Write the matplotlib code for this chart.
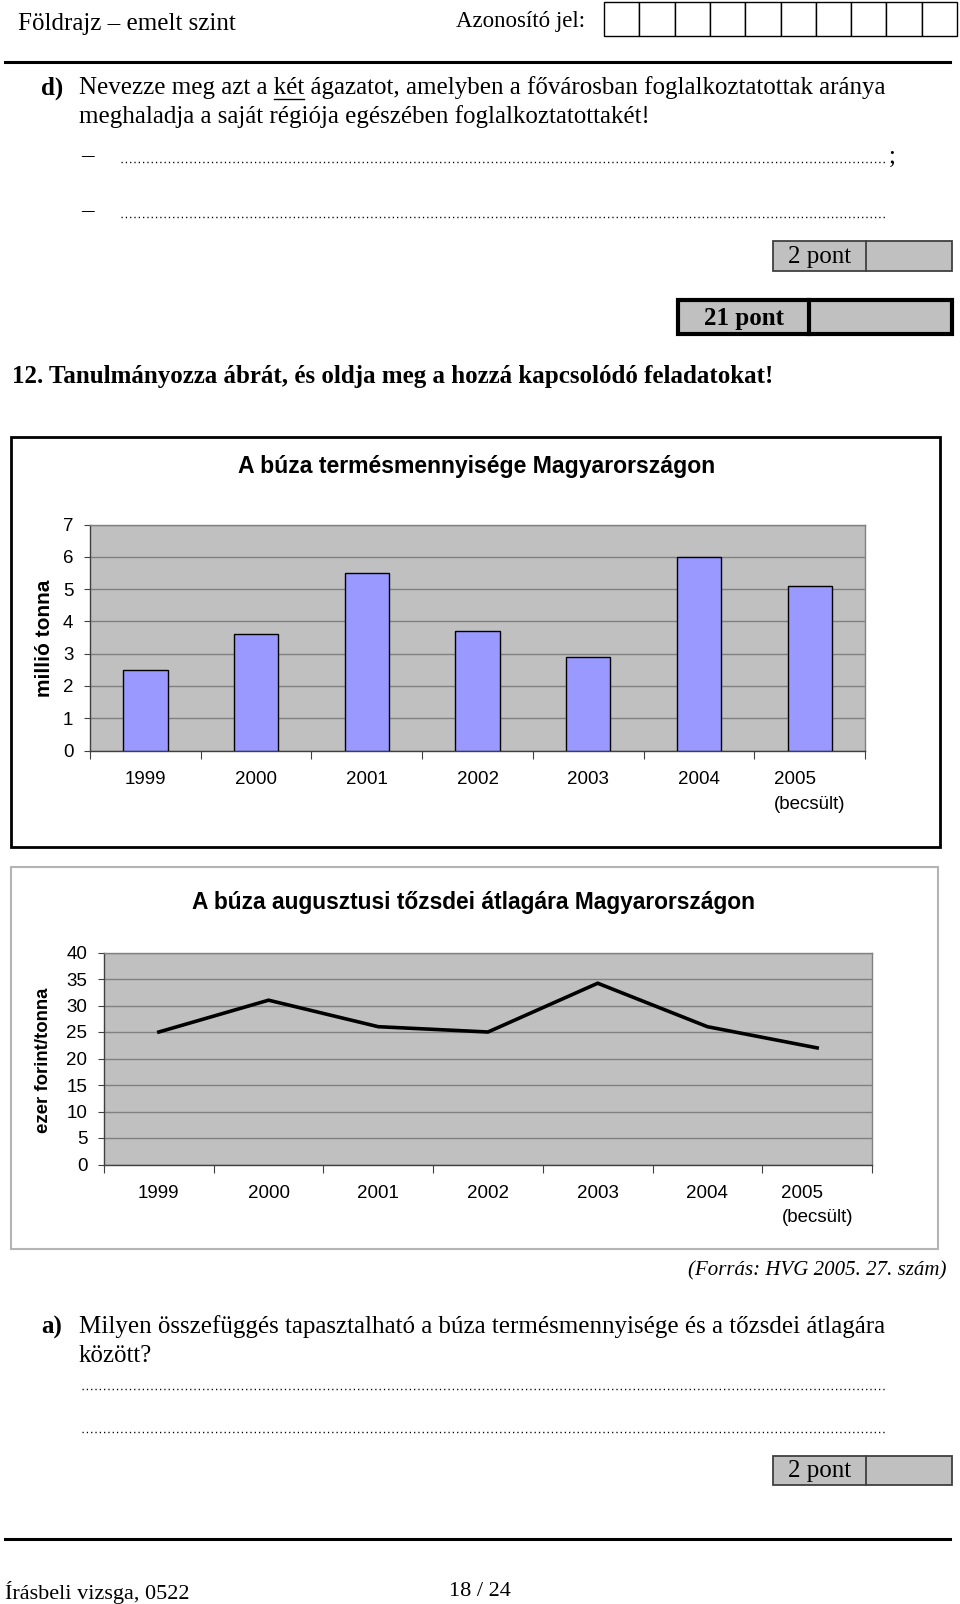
import matplotlib
matplotlib.use("Agg")
import matplotlib.pyplot as plt
from matplotlib.patches import Rectangle

W, H = 960, 1604

# chart data
years = ["1999", "2000", "2001", "2002", "2003", "2004", "2005\n(becsült)"]
harvest = [2.5, 3.6, 5.5, 3.7, 2.9, 6.0, 5.1]      # millió tonna
price = [25, 31, 26, 25, 34.2, 26, 22]             # ezer forint/tonna
harvest_ticks = [0, 1, 2, 3, 4, 5, 6, 7]
price_ticks = [0, 5, 10, 15, 20, 25, 30, 35, 40]

SERIF = "Liberation Serif"
SANS = "Liberation Sans"
PLOT_BG = "#c0c0c0"
GRID = "#808080"
BODY = 18

fig = plt.figure(figsize=(W / 100, H / 100), dpi=100)
page = fig.add_axes([0, 0, 1, 1])
page.set_xlim(0, W)
page.set_ylim(H, 0)
page.axis("off")


def axes_px(x0, y0, x1, y1):
    return fig.add_axes([x0 / W, 1 - y1 / H, (x1 - x0) / W, (y1 - y0) / H])


def txt(x, y, s, size=BODY, **kw):
    kw.setdefault("va", "center")
    return page.text(x, y, s, fontsize=size, family=SERIF, **kw)


def dots(x0, x1, y):
    page.plot([x0, x1], [y, y], color="black", lw=1.0, ls=(0, (0.9, 2.2)),
              solid_capstyle="butt")


def score_box(x0, y0, x1, y1, xm, label, bold=False):
    lw = 3 if bold else 1.3
    ec = "black" if bold else "#404040"
    page.add_patch(Rectangle((x0, y0), x1 - x0, y1 - y0, fc="#c0c0c0", ec=ec, lw=lw))
    page.plot([xm, xm], [y0, y1], color=ec, lw=lw)
    txt((x0 + xm) / 2, (y0 + y1) / 2 + 1, label, weight="bold" if bold else "normal",
        ha="center")


# --- header ---
txt(18, 24, "Földrajz – emelt szint")
txt(585, 22, "Azonosító jel:", size=16.5, ha="right")
cw = (957 - 604) / 10
for i in range(10):
    page.add_patch(Rectangle((604 + i * cw, 2), cw, 34, fc="white", ec="black", lw=1))
page.plot([5, 950], [62, 62], color="black", lw=2.2)

# --- task d ---
txt(41, 88, "d)", weight="bold")
txt(79, 88, "Nevezze meg azt a két ágazatot, amelyben a fővárosban foglalkoztatottak aránya")
txt(79, 117, "meghaladja a saját régiója egészében foglalkoztatottakét!")
# underline "két"
r = fig.canvas.get_renderer()
probe = txt(0, 0, "Nevezze meg azt a két", alpha=0)
w_pre = probe.get_window_extent(r).width
probe2 = txt(0, 0, "két", alpha=0)
w_ket = probe2.get_window_extent(r).width
probe.remove()
probe2.remove()
page.plot([79 + w_pre - w_ket, 79 + w_pre], [98.5, 98.5], color="black", lw=1)

txt(81, 155, "–")
dots(121, 886, 162)
txt(889, 157, ";")
txt(81, 210, "–")
dots(121, 886, 217)

score_box(773, 241, 952, 271, 866, "2 pont")
score_box(678, 300, 952, 334, 809, "21 pont", bold=True)

txt(12, 377, "12. Tanulmányozza ábrát, és oldja meg a hozzá kapcsolódó feladatokat!",
    weight="bold")

# --- chart 1: harvest ---
page.add_patch(Rectangle((11, 437), 929, 410, fc="white", ec="black", lw=2))
page.text(477, 467, "A búza termésmennyisége Magyarországon", family=SANS,
          fontsize=16.6, weight="bold", ha="center", va="center")
page.text(44, 638, "millió tonna", family=SANS, fontsize=15, weight="bold",
          rotation=90, ha="center", va="center")

ax1 = axes_px(90, 524.5, 865, 750.5)
pos = list(range(len(years)))
ax1.set_facecolor(PLOT_BG)
ax1.bar(pos, harvest, width=0.4, color="#9999ff", edgecolor="black", lw=1, zorder=3)
ax1.set_xlim(-0.5, len(years) - 0.5)
ax1.set_ylim(0, 7)
ax1.set_yticks(harvest_ticks)
ax1.yaxis.grid(True, color=GRID, lw=1)
ax1.set_axisbelow(True)

# --- chart 2: price ---
page.add_patch(Rectangle((11, 867), 926.5, 382, fc="white", ec="#b4b4b4", lw=1.5))
page.text(473, 902, "A búza augusztusi tőzsdei átlagára Magyarországon", family=SANS,
          fontsize=16.4, weight="bold", ha="center", va="center")
page.text(44, 1060, "ezer forint/tonna", family=SANS, fontsize=13.4, weight="bold",
          rotation=90, ha="center", va="center")

ax2 = axes_px(104, 952.5, 872, 1164.5)
ax2.set_facecolor(PLOT_BG)
ax2.plot(pos, price, color="black", lw=2.6, solid_joinstyle="miter", zorder=3)
ax2.set_xlim(-0.5, len(years) - 0.5)
ax2.set_ylim(0, 40)
ax2.set_yticks(price_ticks)
ax2.yaxis.grid(True, color=GRID, lw=1)
ax2.set_axisbelow(True)

for ax, xpad, lsp in ((ax1, 15, 1.6), (ax2, 15, 1.55)):
    for s in ax.spines.values():
        s.set_color(GRID)
        s.set_linewidth(1)
    ax.spines["left"].set_color("#404040")
    ax.spines["bottom"].set_color("#404040")
    ax.set_xticks([i - 0.5 for i in range(len(years) + 1)])
    ax.set_xticklabels([])
    ax.set_xticks(pos, minor=True)
    ax.set_xticklabels(years, minor=True, family=SANS, fontsize=13.5)
    for lab in ax.get_xticklabels(minor=True):
        lab.set_multialignment("left")
        lab.set_linespacing(lsp)
    ax.tick_params(axis="x", which="major", length=6, color="#404040", direction="out")
    ax.tick_params(axis="x", which="minor", length=0, pad=xpad)
    ax.tick_params(axis="y", length=4, color="#404040", pad=8)
    for lab in ax.get_yticklabels():
        lab.set_family(SANS)
        lab.set_fontsize(13.5)

# --- source and task a ---
txt(947, 1271, "(Forrás: HVG 2005. 27. szám)", size=15, style="italic", ha="right")
txt(41, 1327, "a)", weight="bold")
txt(79, 1327, "Milyen összefüggés tapasztalható a búza termésmennyisége és a tőzsdei átlagára")
txt(79, 1356, "között?")
dots(82, 886, 1389)
dots(82, 886, 1432)
score_box(773, 1456, 952, 1485, 866, "2 pont")

# --- footer ---
page.plot([5, 950], [1539, 1539], color="black", lw=2.2)
txt(5, 1592, "Írásbeli vizsga, 0522", size=16)
txt(449, 1592, "18 / 24", size=16)

fig.savefig("out.png", dpi=100)
